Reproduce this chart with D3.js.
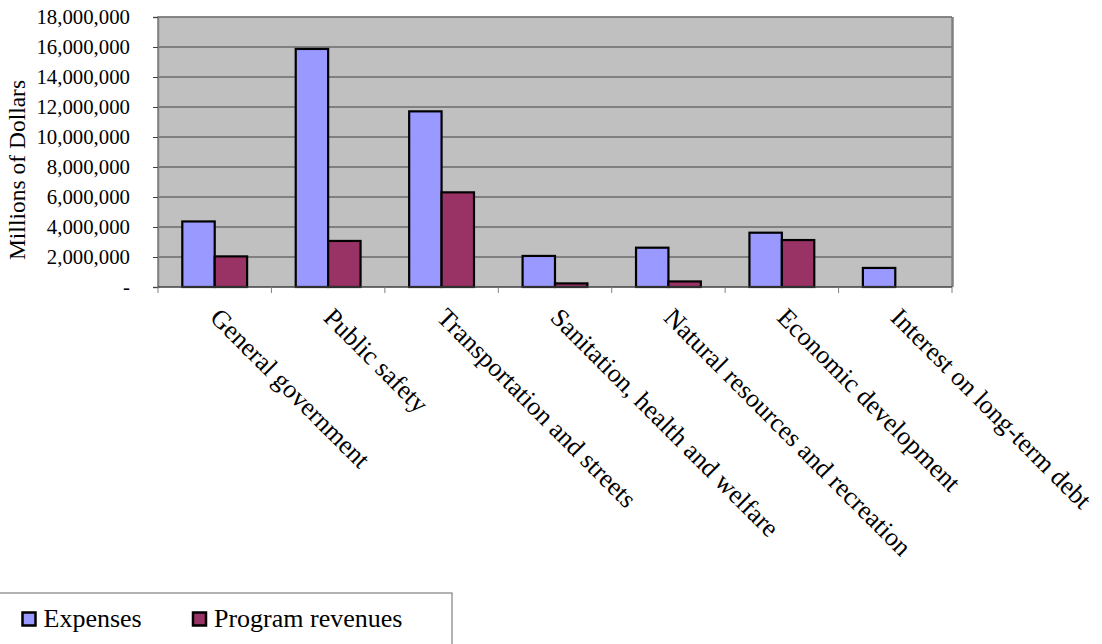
<!DOCTYPE html>
<html lang="en">
<head>
<meta charset="utf-8">
<script src="https://cdn.jsdelivr.net/npm/d3@7"></script>
<style>
  * { margin: 0; padding: 0; }
  body { background: #fff; width: 1102px; height: 644px; overflow: hidden; }
  svg { display: block; font-family: "Liberation Serif", "DejaVu Serif", serif; }
</style>
</head>
<body>
<svg id="chart" width="1102" height="644"></svg>
<script>
const categories = [
  "General government",
  "Public safety",
  "Transportation and streets",
  "Sanitation, health and welfare",
  "Natural resources and recreation",
  "Economic development",
  "Interest on long-term debt"
];
const seriesNames = ["Expenses", "Program revenues"];
const expenses = [4370000, 15870000, 11710000, 2070000, 2620000, 3620000, 1270000];
const programRevenues = [2040000, 3070000, 6310000, 240000, 370000, 3130000, 0];
const yTicks = [0, 2000000, 4000000, 6000000, 8000000, 10000000, 12000000, 14000000, 16000000, 18000000];
const colors = ["#9999ff", "#993366"];

const svg = d3.select("#chart");
const plotL = 158, plotR = 952, plotT = 17, plotB = 287;

const x = d3.scaleBand().domain(categories).range([plotL, plotR]);
const bw = x.bandwidth();
// excel style: 150% gap width, bars touching
const x1 = d3.scaleBand().domain(seriesNames).range([0, 2 * bw / 3.5]);
const offset = (bw - 2 * bw / 3.5) / 2;
const y = d3.scaleLinear().domain([0, 18000000]).range([plotB, plotT]);

// plot area
svg.append("rect")
  .attr("x", plotL).attr("y", plotT)
  .attr("width", plotR - plotL).attr("height", plotB - plotT)
  .attr("fill", "#c0c0c0");

// gridlines
svg.append("g")
  .selectAll("line")
  .data(yTicks.slice(1))
  .join("line")
  .attr("x1", plotL).attr("x2", plotR)
  .attr("y1", d => y(d)).attr("y2", d => y(d))
  .attr("stroke", "#404040").attr("stroke-width", 1.2);

// plot border
svg.append("path")
  .attr("d", `M${plotL},${plotB}V${plotT}H${plotR}`)
  .attr("fill", "none").attr("stroke", "#808080").attr("stroke-width", 1.5);
svg.append("line")
  .attr("x1", plotR + 0.5).attr("x2", plotR + 0.5).attr("y1", plotT).attr("y2", plotB)
  .attr("stroke", "#808080").attr("stroke-width", 2.5);

// bars
const rows = categories.map((c, i) => ({ c, vals: [expenses[i], programRevenues[i]] }));
const groups = svg.append("g")
  .selectAll("g")
  .data(rows)
  .join("g")
  .attr("transform", d => `translate(${x(d.c) + offset},0)`);
groups.selectAll("rect")
  .data(d => d.vals.map((v, k) => ({ k, v })).filter(e => e.v > 0))
  .join("rect")
  .attr("x", d => x1(seriesNames[d.k]))
  .attr("width", x1.bandwidth())
  .attr("y", d => y(d.v))
  .attr("height", d => y(0) - y(d.v))
  .attr("fill", d => colors[d.k])
  .attr("stroke", "#000").attr("stroke-width", 2.2);

// y axis
const yAxis = svg.append("g")
  .attr("transform", `translate(${plotL},0)`)
  .call(d3.axisLeft(y).tickValues(yTicks).tickSize(5)
    .tickFormat(d => d === 0 ? "-" : d3.format(",")(d)));
yAxis.select(".domain").attr("stroke", "#808080").attr("stroke-width", 1.5);
yAxis.selectAll(".tick line").attr("stroke", "#404040");
yAxis.selectAll(".tick text")
  .attr("font-size", 20.8).attr("fill", "#000")
  .attr("font-family", "Liberation Serif, serif")
  .attr("x", -28);

// x axis
svg.append("line")
  .attr("x1", plotL).attr("x2", plotR).attr("y1", plotB).attr("y2", plotB)
  .attr("stroke", "#404040").attr("stroke-width", 1.5);
svg.append("g")
  .selectAll("line")
  .data(d3.range(categories.length + 1))
  .join("line")
  .attr("x1", i => plotL + i * bw).attr("x2", i => plotL + i * bw)
  .attr("y1", plotB).attr("y2", plotB + 6)
  .attr("stroke", "#808080");

svg.append("g")
  .selectAll("text")
  .data(categories)
  .join("text")
  .attr("transform", d => `translate(${x(d) + bw / 2 - 6},319) rotate(45)`)
  .attr("font-size", 26)
  .attr("fill", "#000")
  .text(d => d);

// y title
svg.append("text")
  .attr("transform", "translate(25,170) rotate(-90)")
  .attr("text-anchor", "middle")
  .attr("font-size", 23.5)
  .text("Millions of Dollars");

// legend
svg.append("rect")
  .attr("x", -2).attr("y", 593).attr("width", 454).attr("height", 60)
  .attr("fill", "#fff").attr("stroke", "#808080").attr("stroke-width", 1.2);
const legendX = [22.5, 193];
const leg = svg.append("g")
  .selectAll("g")
  .data(seriesNames)
  .join("g")
  .attr("transform", (d, i) => `translate(${legendX[i]},612.5)`);
leg.append("rect")
  .attr("width", 13).attr("height", 13)
  .attr("fill", (d, i) => colors[i])
  .attr("stroke", "#000").attr("stroke-width", 2.5);
leg.append("text")
  .attr("x", 21).attr("y", 14.5)
  .attr("font-size", 26)
  .text(d => d);
</script>
</body>
</html>
